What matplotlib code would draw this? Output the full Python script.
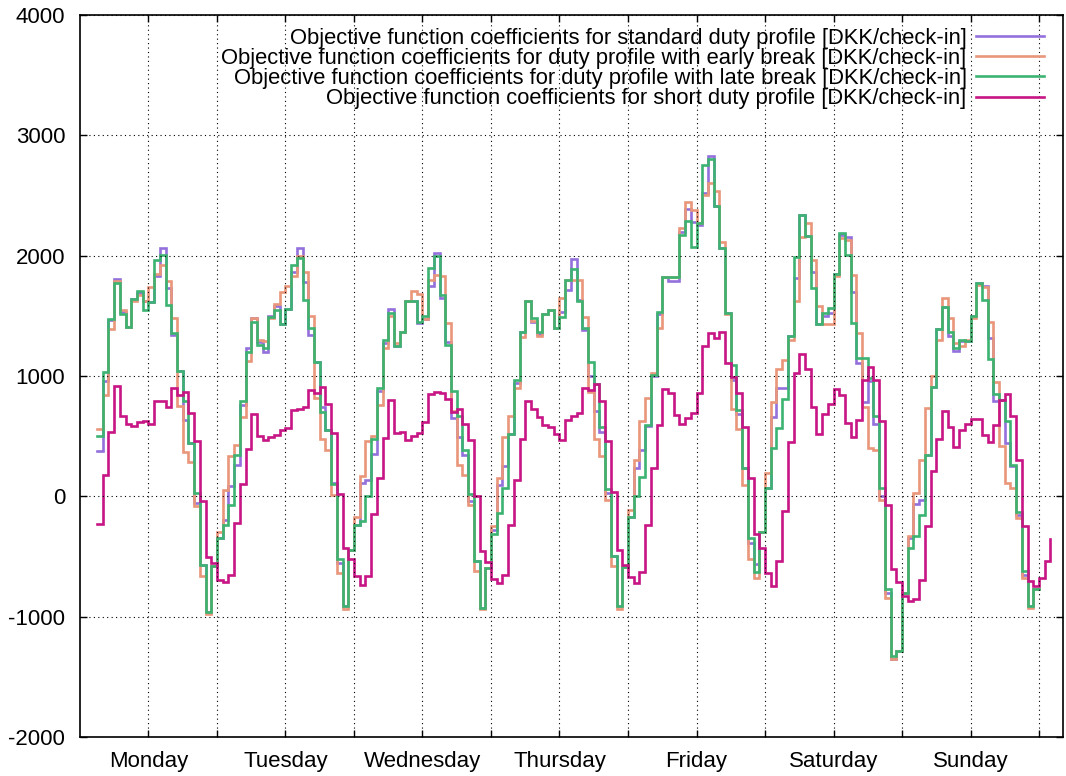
import matplotlib
matplotlib.use('Agg')
import matplotlib.pyplot as plt

# ---------------- data ----------------
day_labels = ['Monday', 'Tuesday', 'Wednesday', 'Thursday', 'Friday', 'Saturday', 'Sunday']

hours_duty = list(range(3, 169))    # start hour of each step (long duty profiles)
hours_short = list(range(3, 171))   # start hour of each step (short duty profile)

late_break = [
    498, 1032, 1471, 1770, 1513, 1411, 1640, 1709, 1549, 1613,
    1964, 2005, 1590, 1361, 1043, 788, 443, 28, -567, -960,
    -581, -346, -241, -69, 346, 788, 1198, 1452, 1260, 1231,
    1488, 1549, 1430, 1557, 1922, 1978, 1632, 1402, 1120, 700,
    553, 105, -520, -913, -443, -235, -205, 0, 480, 899,
    1300, 1527, 1245, 1369, 1626, 1626, 1452, 1499, 1900, 1997,
    1673, 1258, 877, 664, 382, 22, -534, -927, -595, -313,
    -138, 69, 520, 970, 1364, 1626, 1480, 1369, 1513, 1549,
    1402, 1494, 1798, 1889, 1624, 1397, 1120, 932, 575, 61,
    -498, -913, -586, -171, 0, 158, 595, 1010, 1530, 1826,
    1826, 1826, 2171, 2288, 2073, 2269, 2753, 2801, 2409, 2064,
    1527, 1092, 714, 238, -350, -630, -294, 70, 400, 569,
    812, 1336, 1989, 2339, 2165, 1731, 1434, 1527, 1563, 1849,
    2190, 2008, 1443, 1148, 1148, 982, 664, 69, -774, -1328,
    -1286, -802, -429, -326, -152, 346, 907, 1391, 1577, 1369,
    1231, 1300, 1292, 1502, 1770, 1632, 1140, 852, 802, 622,
    263, -133, -622, -913, -774, -774,
]

standard = [
    373, 960, 1466, 1806, 1535, 1411, 1640, 1690, 1624, 1613,
    1830, 2061, 1729, 1341, 1043, 631, 443, -55, -567, -960,
    -581, -346, -200, 83, 263, 760, 1230, 1480, 1280, 1200,
    1500, 1580, 1430, 1557, 1860, 2061, 1784, 1340, 1120, 741,
    553, 111, -553, -913, -443, -235, 111, 138, 354, 871,
    1272, 1557, 1245, 1369, 1626, 1626, 1444, 1470, 1750, 2025,
    1650, 1286, 650, 492, 346, -41, -534, -927, -595, -280,
    97, 249, 520, 940, 1364, 1626, 1450, 1345, 1513, 1549,
    1402, 1530, 1715, 1972, 1632, 1383, 1000, 705, 534, 30,
    -498, -913, -586, -171, 235, 387, 586, 1000, 1516, 1826,
    1790, 1790, 2200, 2386, 2283, 2255, 2521, 2829, 2409, 2064,
    1527, 966, 686, 238, -392, -560, -294, 70, 658, 896,
    896, 1336, 1812, 2339, 2165, 1868, 1434, 1500, 1527, 1849,
    2171, 2157, 1695, 1106, 784, 960, 600, 0, -800, -1350,
    -1286, -802, -346, -60, -30, 346, 907, 1391, 1577, 1330,
    1210, 1290, 1292, 1502, 1770, 1748, 1314, 788, 797, 443,
    249, -152, -650, -913, -774, -774,
]

early_break = [
    559, 844, 1389, 1792, 1549, 1411, 1624, 1671, 1620, 1737,
    1845, 1922, 1792, 1480, 747, 365, 282, -83, -664, -982,
    -581, -300, 55, 337, 429, 658, 1128, 1480, 1300, 1290,
    1480, 1600, 1700, 1750, 1830, 2000, 1867, 1500, 816, 476,
    387, 8, -636, -940, -443, -171, 166, 456, 498, 755,
    1231, 1500, 1270, 1369, 1626, 1709, 1680, 1470, 1800, 1840,
    1834, 1438, 705, 263, 180, -69, -622, -940, -595, -243,
    152, 492, 664, 899, 1328, 1626, 1460, 1330, 1513, 1549,
    1402, 1651, 1798, 1798, 1798, 1494, 866, 479, 332, -28,
    -581, -935, -586, -110, 299, 628, 821, 1023, 1397, 1826,
    1826, 1826, 2230, 2442, 2380, 2269, 2507, 2605, 2535, 2115,
    1518, 728, 560, 98, -518, -681, -294, 196, 784, 1056,
    1134, 1300, 1625, 2157, 2269, 1961, 1583, 1429, 1429, 1829,
    2143, 2130, 1835, 1358, 741, 401, 387, -28, -843, -1355,
    -1286, -802, -332, 28, 304, 733, 1000, 1300, 1646, 1480,
    1272, 1250, 1300, 1480, 1760, 1740, 1450, 954, 415, 111,
    69, -180, -678, -927, -774, -774,
]

short_duty = [
    -230, 180, 531, 913, 669, 603, 581, 617, 628, 600,
    788, 788, 741, 899, 844, 866, 692, 462, -41, -503,
    -553, -697, -711, -650, -221, 105, 390, 680, 498, 470,
    492, 512, 550, 567, 719, 727, 745, 880, 855, 910,
    765, 523, 18, -429, -518, -662, -740, -662, -148, 150,
    484, 802, 525, 534, 470, 498, 525, 614, 852, 863,
    857, 810, 700, 727, 603, 465, 0, -451, -548, -686,
    -719, -650, -238, 137, 473, 788, 725, 658, 595, 575,
    520, 465, 631, 664, 692, 899, 880, 935, 788, 456,
    33, -448, -567, -669, -719, -631, -235, 235, 595, 891,
    857, 678, 600, 650, 692, 860, 1252, 1358, 1316, 1364,
    1106, 994, 860, 580, 154, -317, -429, -639, -742, -541,
    -120, 448, 1028, 1182, 1056, 742, 518, 686, 770, 888,
    840, 608, 490, 636, 966, 1076, 968, 622, -69, -608,
    -714, -830, -871, -857, -697, -249, 207, 479, 711, 575,
    409, 553, 600, 644, 644, 507, 452, 589, 797, 849,
    669, 304, -249, -705, -747, -678, -539, -354,
]

series_labels = [
    'Objective function coefficients for standard duty profile [DKK/check-in]',
    'Objective function coefficients for duty profile with early break [DKK/check-in]',
    'Objective function coefficients for duty profile with late break [DKK/check-in]',
    'Objective function coefficients for short duty profile [DKK/check-in]',
]
series_colors = ['#9370DB', '#E9967A', '#3CB371', '#C71585']

x_ticks = list(range(12, 169, 12))
y_ticks = list(range(-2000, 4001, 1000))

# ---------------- figure ----------------
plt.rcParams['font.family'] = ['Liberation Sans', 'DejaVu Sans']
FS = 16
LFS = 15.8

fig = plt.figure(figsize=(10.66, 7.76), dpi=100)
ax = fig.add_axes([0.0750, 0.0503, 0.9222, 0.9304])

series = [(hours_duty, standard), (hours_duty, early_break),
          (hours_duty, late_break), (hours_short, short_duty)]
for (xs, ys), col, lab in zip(series, series_colors, series_labels):
    ax.step(xs, ys, where='post', color=col, lw=1.9, label=lab,
            solid_joinstyle='miter')

ax.set_xlim(0, 172.2)
ax.set_ylim(-2000, 4000)

xt_labels = []
for i, t in enumerate(x_ticks):
    xt_labels.append(day_labels[i // 2] if i % 2 == 0 else '')
ax.set_xticks(x_ticks)
ax.set_xticklabels(xt_labels)
ax.set_yticks(y_ticks)
ax.set_yticklabels([str(v) for v in y_ticks])

ax.tick_params(axis='both', direction='in', length=5, width=1.0,
               top=True, right=True, labelsize=FS, colors='black')
ax.tick_params(axis='y', pad=10.5)
ax.tick_params(axis='x', pad=10.0)

ax.grid(True, color='black', linestyle=(0, (1, 3)), linewidth=0.8)
ax.set_axisbelow(False)
for sp in ax.spines.values():
    sp.set_linewidth(1.2)
    sp.set_color('black')

leg = ax.legend(loc='upper right', bbox_to_anchor=(0.994, 1.0),
                frameon=False, markerfirst=False, fontsize=LFS,
                handlelength=3.1, handletextpad=0.42, labelspacing=-0.045,
                borderaxespad=0.0, borderpad=0.6)

fig.savefig('out.png', dpi=100)
